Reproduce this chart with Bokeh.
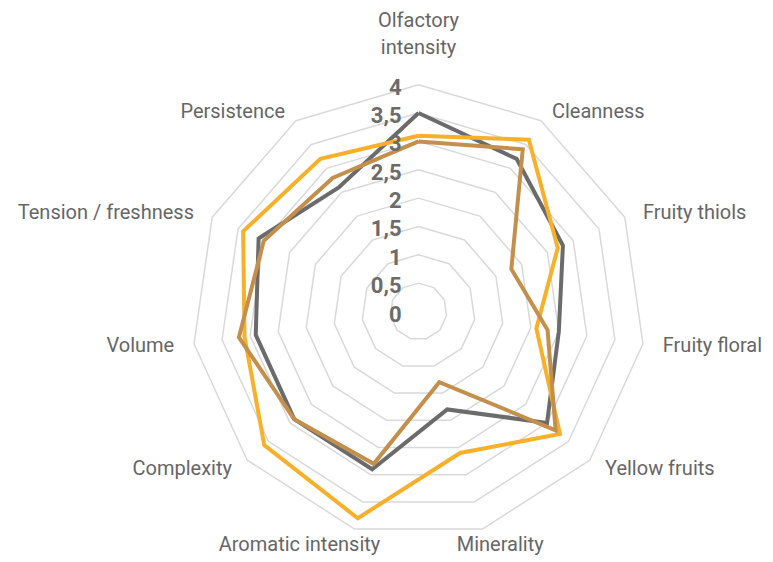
import math
from bokeh.plotting import figure
from bokeh.models import Range1d, ColumnDataSource
from bokeh.core.properties import value
from bokeh.embed import file_html
from bokeh.resources import INLINE

categories = ["Olfactory\nintensity", "Cleanness", "Fruity thiols", "Fruity floral",
              "Yellow fruits", "Minerality", "Aromatic intensity", "Complexity",
              "Volume", "Tension / freshness", "Persistence"]
series_gray = [3.5, 3.2, 2.8, 2.5, 3.0, 1.8, 2.9, 2.9, 2.9, 3.1, 2.6]
series_yellow = [3.1, 3.6, 2.7, 2.1, 3.3, 2.6, 3.8, 3.6, 3.1, 3.4, 3.2]
series_brown = [3.0, 3.4, 1.8, 2.3, 3.2, 1.3, 2.8, 2.9, 3.2, 3.0, 2.8]
tick_values = [0, 0.5, 1, 1.5, 2, 2.5, 3, 3.5, 4]
tick_labels = ["0", "0,5", "1", "1,5", "2", "2,5", "3", "3,5", "4"]

PX = 56.7  # pixels per unit
CX, CY = 418, 311  # centre in picture pixels
W, H = 773, 562

p = figure(width=W, height=H, output_backend="svg", toolbar_location=None,
           x_axis_location=None, y_axis_location=None, min_border=0,
           x_range=Range1d((0 - CX) / PX, (W - CX) / PX),
           y_range=Range1d((CY - H) / PX, CY / PX))
p.grid.visible = False
p.outline_line_color = None
p.background_fill_color = "white"
p.border_fill_color = "white"

n = len(categories)
angles = [math.pi / 2 - 2 * math.pi * i / n for i in range(n)]

# grid rings
for v in tick_values[1:]:
    xs = [v * math.cos(a) for a in angles] + [v * math.cos(angles[0])]
    ys = [v * math.sin(a) for a in angles] + [v * math.sin(angles[0])]
    p.line(xs, ys, line_color="#d9d9d9", line_width=1.5)

def poly(vals):
    xs = [v * math.cos(a) for v, a in zip(vals, angles)]
    ys = [v * math.sin(a) for v, a in zip(vals, angles)]
    return xs + xs[:1], ys + ys[:1]

for vals, col in [(series_gray, "#6b6b6b"), (series_yellow, "#f8b02b"), (series_brown, "#c48f4b")]:
    xs, ys = poly(vals)
    p.line(xs, ys, line_color=col, line_width=4, line_join="miter")

# tick labels
p.text(x=[-17 / PX] * len(tick_values), y=[v - 2 / PX for v in tick_values], text=tick_labels,
       text_align="right", text_baseline="middle", text_font=value("Roboto"),
       text_font_style="bold", text_font_size="22px", text_color="#6b6b6b")

# category labels
rx = 4 + 20 / PX
ry = 4 + 12 / PX
ry_bottom = 4 + 16 / PX
lx, ly, la, lb = [], [], [], []
for cat, a in zip(categories, angles):
    c, s = math.cos(a), math.sin(a)
    if abs(c) < 0.1:
        lx.append(0.0); ly.append(4 + 26 / PX)
        la.append("center"); lb.append("bottom")
        continue
    if s < -0.9:
        lx.append(0.55 * rx * c)
        ly.append(ry_bottom * s)
    else:
        lx.append(rx * c)
        ly.append(ry * s)
    la.append("left" if c > 0 else "right")
    lb.append("middle")
src = ColumnDataSource(dict(x=lx, y=ly, t=categories, a=la, b=lb))
p.text(x="x", y="y", text="t", text_align="a", text_baseline="b", source=src,
       text_font=value("Roboto"), text_font_size="20px", text_color="#666666",
       text_line_height=1.1)

open("out.html", "w").write(file_html(p, INLINE))
